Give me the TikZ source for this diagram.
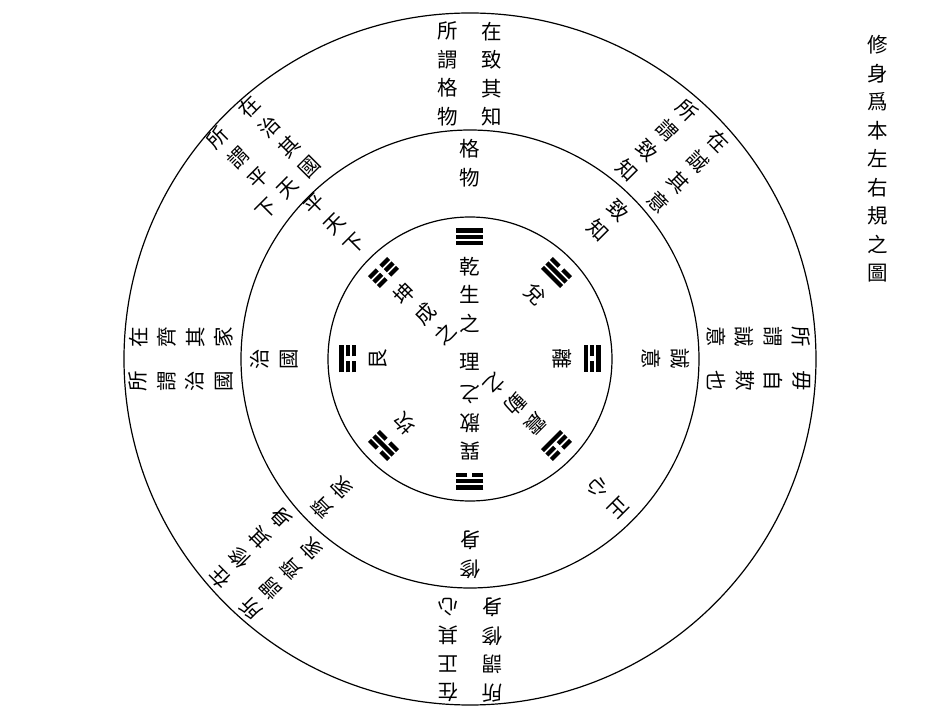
\documentclass[tikz,border=0pt]{standalone}
\usepackage{fontspec}
\newfontfamily\cjk{Noto Sans CJK TC}
\usetikzlibrary{calc}

\tikzset{
  ring/.style={line width=1.2pt},
  glyphs/.style={font=\cjk\fontsize{20.5}{28.5}\selectfont, align=center, inner sep=0pt},
  yao/.style={line width=4.3pt},
  yang/.style={},
  yin/.style={dash pattern=on 11pt off 5pt},
}

\begin{document}
\begin{tikzpicture}[x=1pt, y=1pt]
  \useasboundingbox (-470,-366) rectangle (468,359);
  \coordinate (o) at (0,0);

  % three rings
  \draw[ring] (o) circle (346);
  \draw[ring] (o) circle (229);
  \draw[ring] (o) circle (142);

  % title
  \node[glyphs] (title) at (408,200) {修\\身\\爲\\本\\左\\右\\規\\之\\圖};

  % outer ring, two columns each
  \foreach \ang/\rr/\rt/\lf/\nm in {0/285/{在\\致\\其\\知}/{所\\謂\\格\\物}/gewu,
      45/287/{在\\誠\\其\\意}/{所\\謂\\致\\知}/zhizhi,
      90/289/{毋\\自\\欺\\也}/{所\\謂\\誠\\意}/chengyi,
      180/291/{在\\正\\其\\心}/{所\\謂\\修\\身}/xiushen,
      225/289/{在\\修\\其\\身}/{所\\謂\\齊\\家}/qijia,
      270/289/{在\\齊\\其\\家}/{所\\謂\\治\\國}/zhiguo}{
    \node[glyphs, rotate=-\ang] (\nm-r) at ($(90-\ang:\rr)+(-\ang:22)$) {\rt};
    \node[glyphs, rotate=-\ang] (\nm-l) at ($(90-\ang:\rr)+(180-\ang:22)$) {\lf};
  }
  % upper left: last two glyphs side by side
  \node[glyphs, rotate=45] (pingtianxia-r) at ($(135:292)+(45:22)$) {在\\治\\其\\國};
  \node[glyphs, rotate=45] (pingtianxia-l) at ($(135:306.25)+(225:22)$) {所\\謂\\平};
  \node[glyphs, rotate=45] (pingtianxia-tian) at ($(135:249.25)+(225:8)$) {天};
  \node[glyphs, rotate=45] (pingtianxia-xia) at ($(135:249.25)+(225:38)$) {下};

  % middle ring
  \foreach \ang/\txt/\nm in {0/格\\物/gewu, 45/致\\知/zhizhi, 90/誠\\意/chengyi,
      135/正\\心/zhengxin, 180/修\\身/xiushen, 225/齊\\家/qijia,
      270/治\\國/zhiguo}
    \node[glyphs, rotate=-\ang] (mid-\nm) at (90-\ang:196) {\txt};
  \node[glyphs, rotate=45] (mid-pingtianxia) at (135:191) {平\\天\\下};

  % inner circle
  \node[glyphs] (li) at (0,-3) {理};
  \foreach \ang/\txt/\nm in {0/乾\\生\\之/qian, 135/震\\動\\之/zhen,
      180/巽\\散\\之/xun, 315/坤\\成\\之/kun}
    \node[glyphs, rotate=-\ang] (gua-\nm) at (90-\ang:64) {\txt};
  \foreach \ang/\txt/\nm in {45/兌/dui, 90/離/li, 225/坎/kan, 270/艮/gen}
    \node[glyphs, rotate=-\ang] (gua-\nm) at (90-\ang:92) {\txt};

  % trigrams, first line innermost
  \foreach \ang/\ya/\yb/\yc in {0/yang/yang/yang, 45/yang/yang/yin,
      90/yang/yin/yang, 135/yang/yin/yin, 180/yin/yang/yang,
      225/yin/yang/yin, 270/yin/yin/yang, 315/yin/yin/yin}{
    \begin{scope}[rotate=-\ang]
      \draw[yao, \ya] (-13.5,116) -- (13.5,116);
      \draw[yao, \yb] (-13.5,122.3) -- (13.5,122.3);
      \draw[yao, \yc] (-13.5,128.6) -- (13.5,128.6);
    \end{scope}
  }
\end{tikzpicture}
\end{document}
